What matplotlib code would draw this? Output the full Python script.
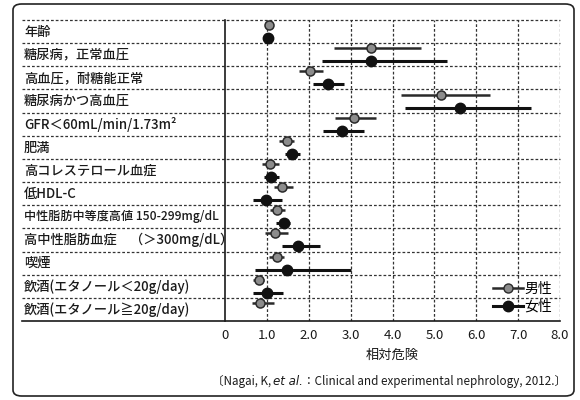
import matplotlib
matplotlib.use("Agg")
import matplotlib.pyplot as plt
import numpy as np
from matplotlib.transforms import blended_transform_factory
from matplotlib.patches import FancyBboxPatch
from matplotlib.lines import Line2D

plt.rcParams['font.family'] = ['Noto Sans CJK JP', 'DejaVu Sans']

categories = ["年齢", "糖尿病，正常血圧", "高血圧，耐糖能正常", "糖尿病かつ高血圧",
              "GFR＜60mL/min/1.73m²", "肥満", "高コレステロール血症", "低HDL-C",
              "中性脂肪中等度高値 150-299mg/dL", "高中性脂肪血症　（＞300mg/dL）", "喫煙",
              "飲酒(エタノール＜20g/day)", "飲酒(エタノール≧20g/day)"]

men_rr = [1.04, 3.48, 2.02, 5.16, 3.09, 1.48, 1.07, 1.36, 1.24, 1.20, 1.24, 0.80, 0.84]
men_lo = [1.03, 2.61, 1.77, 4.21, 2.62, 1.30, 0.88, 1.16, 1.08, 0.96, 1.06, 0.68, 0.64]
men_hi = [1.05, 4.68, 2.35, 6.32, 3.60, 1.65, 1.28, 1.63, 1.44, 1.51, 1.41, 0.92, 1.16]

women_rr = [1.03, 3.48, 2.45, 5.61, 2.80, 1.60, 1.10, 0.98, 1.40, 1.75, 1.48, 1.00, np.nan]
women_lo = [1.02, 2.31, 2.09, 4.29, 2.35, 1.44, 0.92, 0.68, 1.22, 1.36, 0.72, 0.68, np.nan]
women_hi = [1.04, 5.29, 2.85, 7.30, 3.31, 1.78, 1.30, 1.36, 1.56, 2.27, 3.01, 1.38, np.nan]

xticks = [0, 1, 2, 3, 4, 5, 6, 7, 8]
xticklabels = ["0", "1.0", "2.0", "3.0", "4.0", "5.0", "6.0", "7.0", "8.0"]
series_names = ["男性", "女性"]
xlabel = "相対危険"
citation_parts = [("〔Nagai, K, ", "normal"), ("et al.", "italic"),
                  ("：Clinical and experimental nephrology, 2012.〕", "normal")]

W, H = 580, 400
fig = plt.figure(figsize=(W / 100, H / 100), dpi=100)
fig.patch.set_facecolor('white')

box = FancyBboxPatch((13 / W, 4 / H), (574 - 13) / W, (396 - 4) / H,
                     boxstyle="round,pad=0,rounding_size=0.015",
                     transform=fig.transFigure, fill=False, ec='#222222', lw=1.2)
fig.patches.append(box)

ax_l, ax_r, ax_t, ax_b = 225, 560, 20, 321
ax = fig.add_axes([ax_l / W, 1 - ax_b / H, (ax_r - ax_l) / W, (ax_b - ax_t) / H])
n = len(categories)
ax.set_xlim(0, 8)
ax.set_ylim(n - 0.5, -0.5)

ink = '#1a1a1a'
dash = (0, (2.2, 1.6))
for xv in xticks[1:]:
    ax.axvline(xv, color='#333333', lw=0.9, ls=dash, zorder=1)

btf = blended_transform_factory(ax.transAxes, ax.transData)
x_left = (22 - ax_l) / (ax_r - ax_l)
for i in range(n):
    ax.plot([x_left, 1], [i - 0.5, i - 0.5], transform=btf, color='#333333',
            lw=0.9, ls=dash, clip_on=False, zorder=1)
ax.plot([x_left, 1], [n - 0.5, n - 0.5], transform=btf, color=ink, lw=1.2,
        clip_on=False, zorder=2)

for s in ['top', 'right', 'bottom']:
    ax.spines[s].set_visible(False)
ax.spines['left'].set_color(ink)
ax.spines['left'].set_linewidth(1.2)

x_text = (24 - ax_l) / (ax_r - ax_l)
for i, c in enumerate(categories):
    fs = 8.7 if i == 8 else 9.5
    ax.text(x_text, i, c, transform=btf, ha='left', va='center', fontsize=fs,
            color=ink, fontweight='medium')

ax.set_yticks([])
ax.set_xticks(xticks)
ax.set_xticklabels(xticklabels, fontsize=9.5, color=ink)
ax.tick_params(axis='x', length=0, pad=6)
ax.set_xlabel(xlabel, fontsize=9.5, color=ink, labelpad=5)

y = np.arange(n)
off = 0.28
men_rr_a, women_rr_a = np.array(men_rr), np.array(women_rr)
ax.errorbar(men_rr_a, y - off,
            xerr=[men_rr_a - np.array(men_lo), np.array(men_hi) - men_rr_a],
            fmt='o', ms=6.5, mfc='#8c8c8c', mec='#2a2a2a', mew=1.1,
            ecolor='#2a2a2a', elinewidth=1.8, capsize=0, zorder=4)
ax.errorbar(women_rr_a, y + off,
            xerr=[women_rr_a - np.array(women_lo), np.array(women_hi) - women_rr_a],
            fmt='o', ms=7.5, mfc='#111111', mec='#111111',
            ecolor='#111111', elinewidth=2.2, capsize=0, zorder=4)

h1 = Line2D([], [], color='#2a2a2a', lw=1.8, marker='o', ms=6.5, mfc='#8c8c8c', mec='#2a2a2a')
h2 = Line2D([], [], color='#111111', lw=2.2, marker='o', ms=7.5, mfc='#111111', mec='#111111')
ax.legend([h1, h2], series_names, loc='lower right', bbox_to_anchor=(1.0, 0.0),
          frameon=False, fontsize=10, handlelength=2.2, handletextpad=0.1,
          labelspacing=0.25, borderaxespad=0.15)

fig.canvas.draw()
r = fig.canvas.get_renderer()
texts = []
for s, st in citation_parts:
    fam = ['DejaVu Sans'] if st == 'italic' else ['Noto Sans CJK JP', 'DejaVu Sans']
    fs = 8.6 if st == 'italic' else 8.4
    t = fig.text(0, 1 - 381 / H, s, ha='left', va='baseline', fontsize=fs,
                 color=ink, style=st, family=fam)
    texts.append(t)
widths = [t.get_window_extent(r).width for t in texts]
total = sum(widths)
x0 = 389 - total / 2
for t, w in zip(texts, widths):
    t.set_x(x0 / W)
    t.set_y(1 - 385 / H)
    x0 += w

fig.savefig("out.png", dpi=100)
